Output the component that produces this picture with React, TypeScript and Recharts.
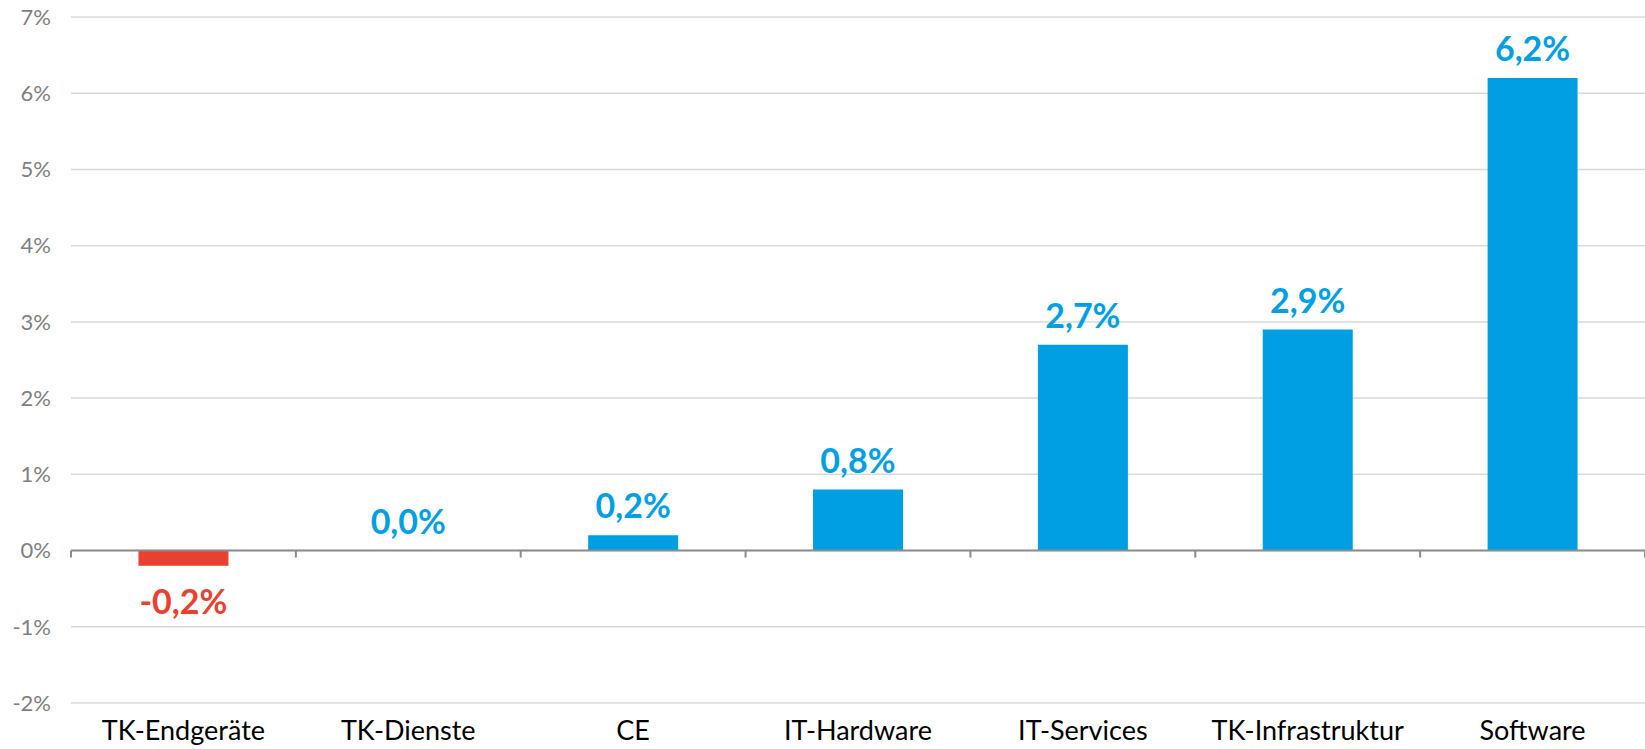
import { ComposedChart, Bar, Line, XAxis, YAxis, CartesianGrid, ReferenceLine, LabelList, Cell } from 'recharts';

const categories = ['TK-Endgeräte', 'TK-Dienste', 'CE', 'IT-Hardware', 'IT-Services', 'TK-Infrastruktur', 'Software'];
const values = [-0.2, 0.0, 0.2, 0.8, 2.7, 2.9, 6.2];
const yTicks = [-2, -1, 0, 1, 2, 3, 4, 5, 6, 7];

const BLUE = '#009FE3';
const RED = '#E84130';
const FONT = 'Lato, "Open Sans", sans-serif';

const data = categories.map((name, i) => ({ name, value: values[i] }));

const fmt = (v: number) => v.toFixed(1).replace('.', ',') + '%';

// label anchored to the point at the value (bar end), drawn through a hidden line series
// so that the 0,0% bar also gets a label
function ValueLabel(props: any) {
  const { x, y, value } = props;
  const neg = value < 0;
  return (
    <text
      x={x}
      y={neg ? y + 21 : y - 17}
      textAnchor="middle"
      dominantBaseline={neg ? 'hanging' : 'auto'}
      fill={neg ? RED : BLUE}
      fontFamily={FONT}
      fontWeight={700}
      fontSize={34}
    >
      {fmt(value)}
    </text>
  );
}

function ZeroAxis(props: any) {
  const { x1, x2, y1 } = props;
  const n = categories.length;
  const step = (x2 - x1) / n;
  const marks = [];
  for (let i = 0; i <= n; i++) {
    const x = x1 + i * step;
    marks.push(<line key={i} x1={x} x2={x} y1={y1} y2={y1 + 7} stroke="#8c8c8c" strokeWidth={2} />);
  }
  return (
    <g>
      <line x1={x1} x2={x2} y1={y1} y2={y1} stroke="#8c8c8c" strokeWidth={2} />
      {marks}
    </g>
  );
}

export default function App() {
  return (
    <div style={{ position: 'absolute', left: 0, top: 0, background: '#fff' }}>
      <ComposedChart
        width={1645}
        height={749}
        data={data}
        margin={{ top: 17, right: 0, left: 0, bottom: 0 }}
        barCategoryGap="30%"
      >
        <CartesianGrid vertical={false} stroke="#d9d9d9" strokeWidth={1.5} />
        <XAxis
          dataKey="name"
          height={46}
          axisLine={false}
          tickLine={false}
          interval={0}
          tickMargin={12}
          tick={{ fill: '#000', fontSize: 27, fontFamily: FONT }}
        />
        <YAxis
          width={71}
          domain={[-2, 7]}
          ticks={yTicks}
          axisLine={false}
          tickLine={false}
          tickMargin={14}
          tickFormatter={(v: number) => `${v}%`}
          tick={{ fill: '#7f7f7f', fontSize: 22, fontFamily: FONT }}
        />
        <Bar dataKey="value" isAnimationActive={false}>
          {data.map((d, i) => (
            <Cell key={`cell-${i}`} fill={d.value < 0 ? RED : BLUE} />
          ))}
        </Bar>
        <Line
          dataKey="value"
          stroke="none"
          dot={false}
          activeDot={false}
          legendType="none"
          isAnimationActive={false}
        >
          <LabelList dataKey="value" content={<ValueLabel />} />
        </Line>
        <ReferenceLine y={0} shape={(p: any) => <ZeroAxis {...p} />} />
      </ComposedChart>
    </div>
  );
}
